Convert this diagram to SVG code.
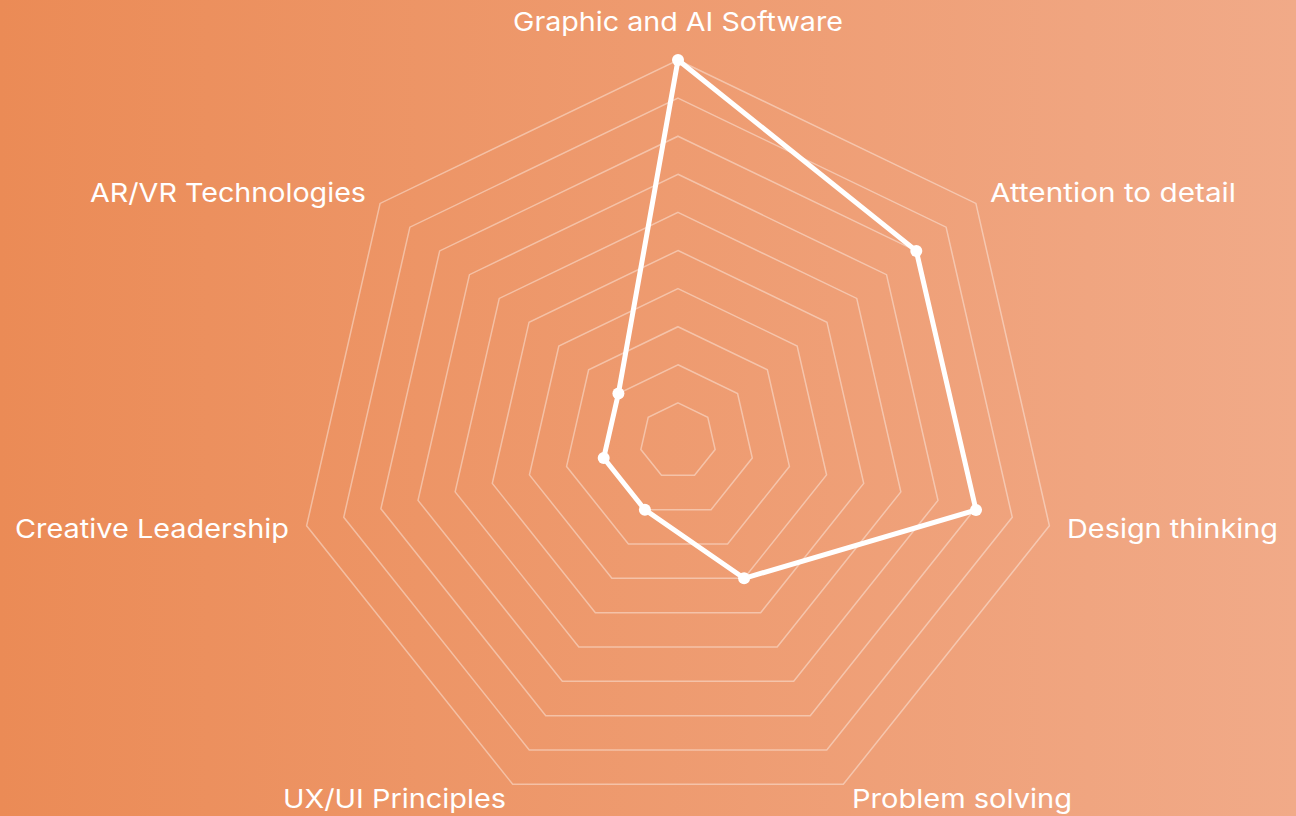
<svg xmlns="http://www.w3.org/2000/svg" width="1296" height="816" viewBox="0 0 1296 816">
<defs>
<linearGradient id="bg" x1="0" y1="0" x2="1" y2="0">
<stop offset="0" stop-color="#EB8B56"/>
<stop offset="1" stop-color="#F1AA88"/>
</linearGradient>
</defs>
<style>
.ring{fill:none;stroke:#FFFFFF;stroke-opacity:0.4;stroke-width:1.5;vector-effect:non-scaling-stroke}
.lbl{font-family:"Inter","Open Sans",sans-serif;font-size:26px;fill:#FFFFFF}
.dot{fill:#FFFFFF}
</style>
<rect width="1296" height="816" fill="url(#bg)"/>
<g id="grid" transform="translate(678,441)">
<polygon id="ring10" class="ring" points="0,-381 297.9,-237.6 371.4,84.8 165.3,343.3 -165.3,343.3 -371.4,84.8 -297.9,-237.6"/>
<use href="#ring10" transform="scale(0.9)"/>
<use href="#ring10" transform="scale(0.8)"/>
<use href="#ring10" transform="scale(0.7)"/>
<use href="#ring10" transform="scale(0.6)"/>
<use href="#ring10" transform="scale(0.5)"/>
<use href="#ring10" transform="scale(0.4)"/>
<use href="#ring10" transform="scale(0.3)"/>
<use href="#ring10" transform="scale(0.2)"/>
<use href="#ring10" transform="scale(0.1)"/>
</g>
<g id="connectors">
<polygon points="678,60 916.3,250.9 976,510 744.1,578.3 644.9,509.7 603.7,458 618.4,393.5" fill="none" stroke="#FFFFFF" stroke-width="5" stroke-linejoin="round"/>
</g>
<g id="points">
<circle class="dot" cx="678" cy="60" r="6"/>
<circle class="dot" cx="916.3" cy="250.9" r="6"/>
<circle class="dot" cx="976" cy="510" r="6"/>
<circle class="dot" cx="744.1" cy="578.3" r="6"/>
<circle class="dot" cx="644.9" cy="509.7" r="6"/>
<circle class="dot" cx="603.7" cy="458" r="6"/>
<circle class="dot" cx="618.4" cy="393.5" r="6"/>
</g>
<g id="label-graphic"><text class="lbl" x="513" y="31" textLength="330" lengthAdjust="spacingAndGlyphs">Graphic and AI Software</text></g>
<g id="label-attention"><text class="lbl" x="990" y="202" textLength="246" lengthAdjust="spacingAndGlyphs">Attention to detail</text></g>
<g id="label-design"><text class="lbl" x="1067" y="538" textLength="211" lengthAdjust="spacingAndGlyphs">Design thinking</text></g>
<g id="label-problem"><text class="lbl" x="852" y="808" textLength="220" lengthAdjust="spacingAndGlyphs">Problem solving</text></g>
<g id="label-uxui"><text class="lbl" x="283" y="808" textLength="223" lengthAdjust="spacingAndGlyphs">UX/UI Principles</text></g>
<g id="label-creative"><text class="lbl" x="15" y="538" textLength="274" lengthAdjust="spacingAndGlyphs">Creative Leadership</text></g>
<g id="label-arvr"><text class="lbl" x="90" y="202" textLength="276" lengthAdjust="spacingAndGlyphs">AR/VR Technologies</text></g>
</svg>
